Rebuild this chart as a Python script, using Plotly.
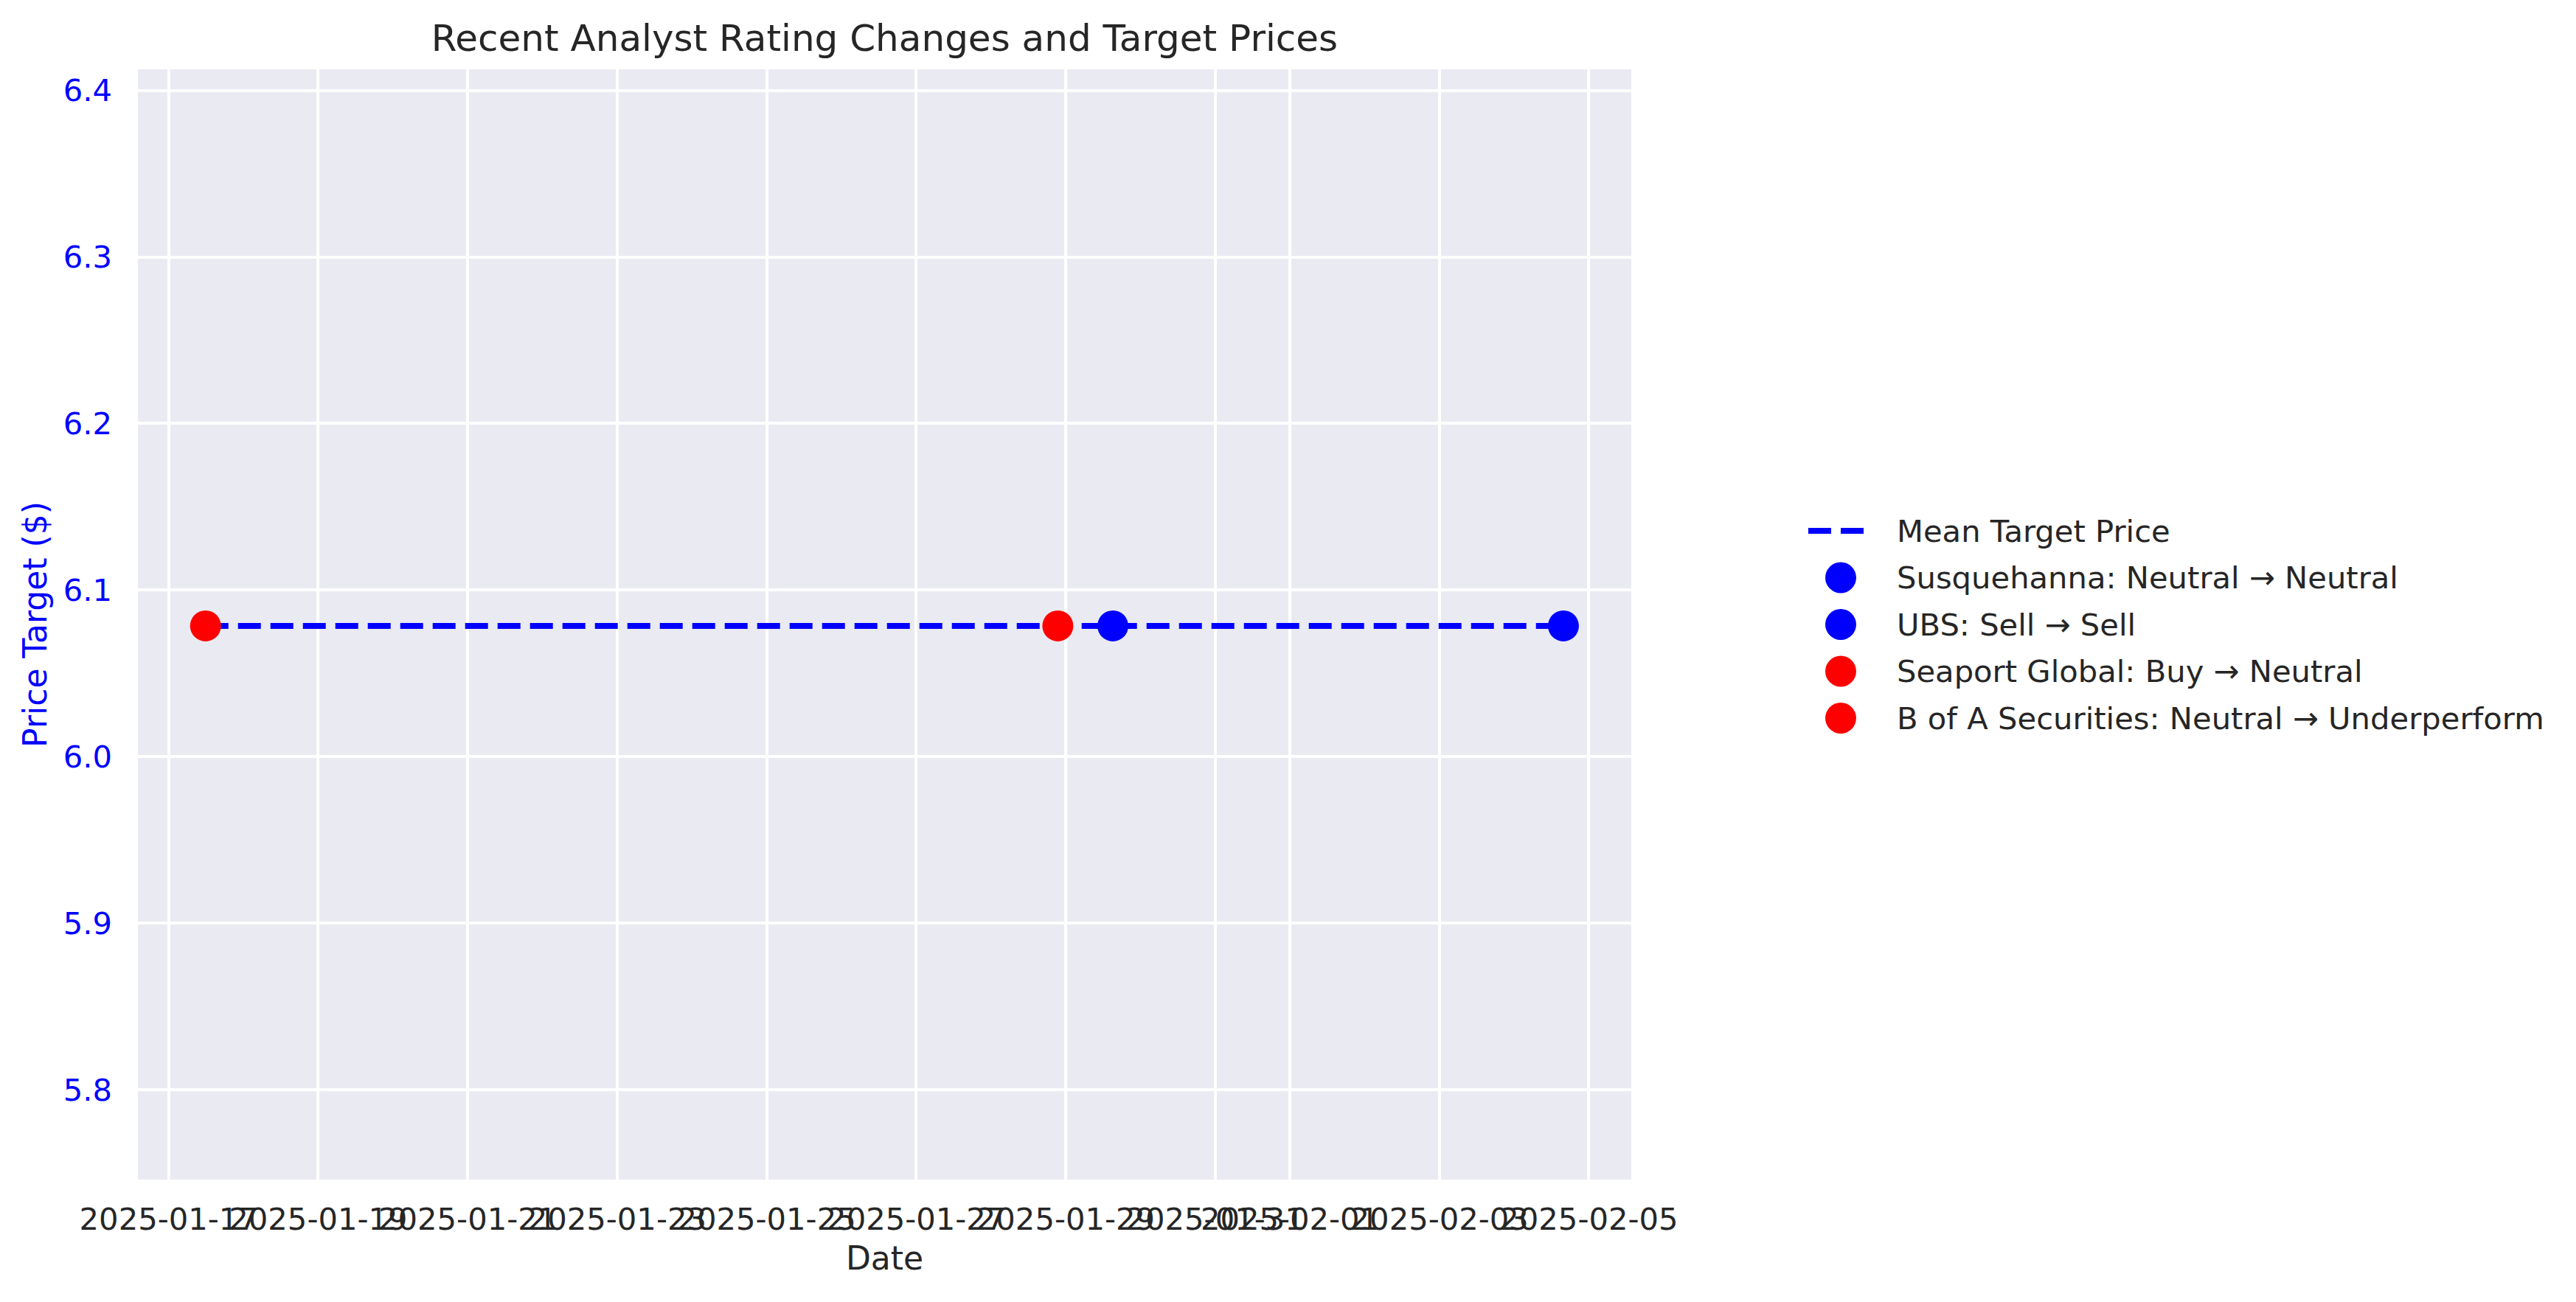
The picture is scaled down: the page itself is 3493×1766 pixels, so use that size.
import plotly.graph_objects as go

W, H = 3493, 1766
OFF = 8  # page body margin in the browser

# analyst actions (latest first)
firms = ["Susquehanna", "UBS", "Seaport Global", "B of A Securities"]
from_grades = ["Neutral", "Sell", "Buy", "Neutral"]
to_grades = ["Neutral", "Sell", "Neutral", "Underperform"]
action_dates = ["2025-02-04 15:50", "2025-01-29 15:10", "2025-01-28 21:30", "2025-01-17 11:50"]
price_targets = [6.0785, 6.0785, 6.0785, 6.0785]
dot_colors = ["blue", "blue", "red", "red"]

x_tick_dates = ["2025-01-17", "2025-01-19", "2025-01-21", "2025-01-23", "2025-01-25",
                "2025-01-27", "2025-01-29", "2025-01-31", "2025-02-01", "2025-02-03",
                "2025-02-05"]
y_tick_vals = [5.8, 5.9, 6.0, 6.1, 6.2, 6.3, 6.4]

TXT = "#262626"
FONT = "DejaVu Sans"
FS = 41.7
LABEL_FS = 44


def label_for(i):
    return f"{firms[i]}: {from_grades[i]} \u2192 {to_grades[i]}"


mean_target = sum(price_targets) / len(price_targets)
line_x = [min(action_dates), max(action_dates)]

fig = go.Figure()

# mean target line under the dots
fig.add_trace(go.Scatter(
    x=line_x, y=[mean_target, mean_target], mode="lines",
    line=dict(color="blue", width=8, dash="31px,13px"),
    name="Mean Target Price", showlegend=False))

for i in range(len(firms)):
    fig.add_trace(go.Scatter(
        x=[action_dates[i]], y=[price_targets[i]], mode="markers",
        marker=dict(color=dot_colors[i], size=42, line=dict(width=0)),
        name=label_for(i), showlegend=False))

# hand-drawn legend on an overlay axis measured in pixels (right side only)
LX0 = 2300
leg_x0, leg_x1, leg_mx, leg_tx = 2452 - OFF, 2538 - OFF, 2496 - OFF, 2570 - OFF
leg_y0, leg_dy = 720 - OFF, 63.5
fig.add_trace(go.Scatter(
    x=[leg_x0, leg_x1], y=[leg_y0, leg_y0], mode="lines",
    line=dict(color="blue", width=8, dash="31px,13px"),
    xaxis="x2", yaxis="y2", showlegend=False, hoverinfo="skip"))
fig.add_annotation(x=leg_tx, y=leg_y0, xref="x2", yref="y2", text="Mean Target Price",
                   showarrow=False, xanchor="left", yanchor="middle",
                   font=dict(family=FONT, size=FS, color=TXT))
for i in range(len(firms)):
    yy = leg_y0 + leg_dy * (i + 1)
    fig.add_trace(go.Scatter(
        x=[leg_mx], y=[yy], mode="markers",
        marker=dict(color=dot_colors[i], size=42, line=dict(width=0)),
        xaxis="x2", yaxis="y2", showlegend=False, hoverinfo="skip"))
    fig.add_annotation(x=leg_tx, y=yy, xref="x2", yref="y2", text=label_for(i),
                       showarrow=False, xanchor="left", yanchor="middle",
                       font=dict(family=FONT, size=FS, color=TXT))

# axes background for the main panel only
fig.add_shape(type="rect", xref="x domain", yref="y domain", x0=0, x1=1, y0=0, y1=1,
              fillcolor="#EAEAF2", line=dict(width=0), layer="below")

fig.update_layout(
    width=W, height=H,
    margin=dict(l=0, r=0, t=0, b=0, autoexpand=False),
    paper_bgcolor="white",
    plot_bgcolor="rgba(0,0,0,0)",
    font=dict(family=FONT, size=FS, color=TXT),
    title=dict(text="Recent Analyst Rating Changes and Target Prices",
               x=(1199.5 - OFF) / W, xanchor="center", y=1 - (51 - OFF) / H,
               yanchor="middle",
               font=dict(family=FONT, size=50, color=TXT)),
    xaxis=dict(
        domain=[(187 - OFF) / W, (2212 - OFF) / W],
        automargin=False,
        type="date",
        range=["2025-01-16 14:07", "2025-02-05 13:38"],
        tickmode="array", tickvals=x_tick_dates, ticktext=x_tick_dates,
        tickangle=0, ticklabeloverflow="allow",
        ticks="", ticklabelstandoff=25,
        tickfont=dict(family=FONT, size=FS, color=TXT),
        showgrid=True, gridcolor="white", gridwidth=4,
        zeroline=False, showline=False,
        title=dict(text="Date", standoff=14,
                   font=dict(family=FONT, size=LABEL_FS, color=TXT)),
    ),
    yaxis=dict(
        domain=[1 - (1600 - OFF) / H, 1 - (94 - OFF) / H],
        automargin=False,
        range=[5.746, 6.4127],
        tickmode="array", tickvals=y_tick_vals,
        ticktext=[f"{v:.1f}" for v in y_tick_vals],
        ticks="", ticklabelstandoff=34,
        tickfont=dict(family=FONT, size=FS, color="blue"),
        showgrid=True, gridcolor="white", gridwidth=4,
        zeroline=False, showline=False,
        title=dict(text="Price Target ($)", standoff=8,
                   font=dict(family=FONT, size=LABEL_FS, color="blue")),
    ),
    xaxis2=dict(domain=[LX0 / W, 1], range=[LX0, W], visible=False, anchor="y2",
                automargin=False),
    yaxis2=dict(domain=[0, 1], range=[H, 0], visible=False, anchor="x2",
                automargin=False),
    showlegend=False,
)

fig.write_html("out.html")
